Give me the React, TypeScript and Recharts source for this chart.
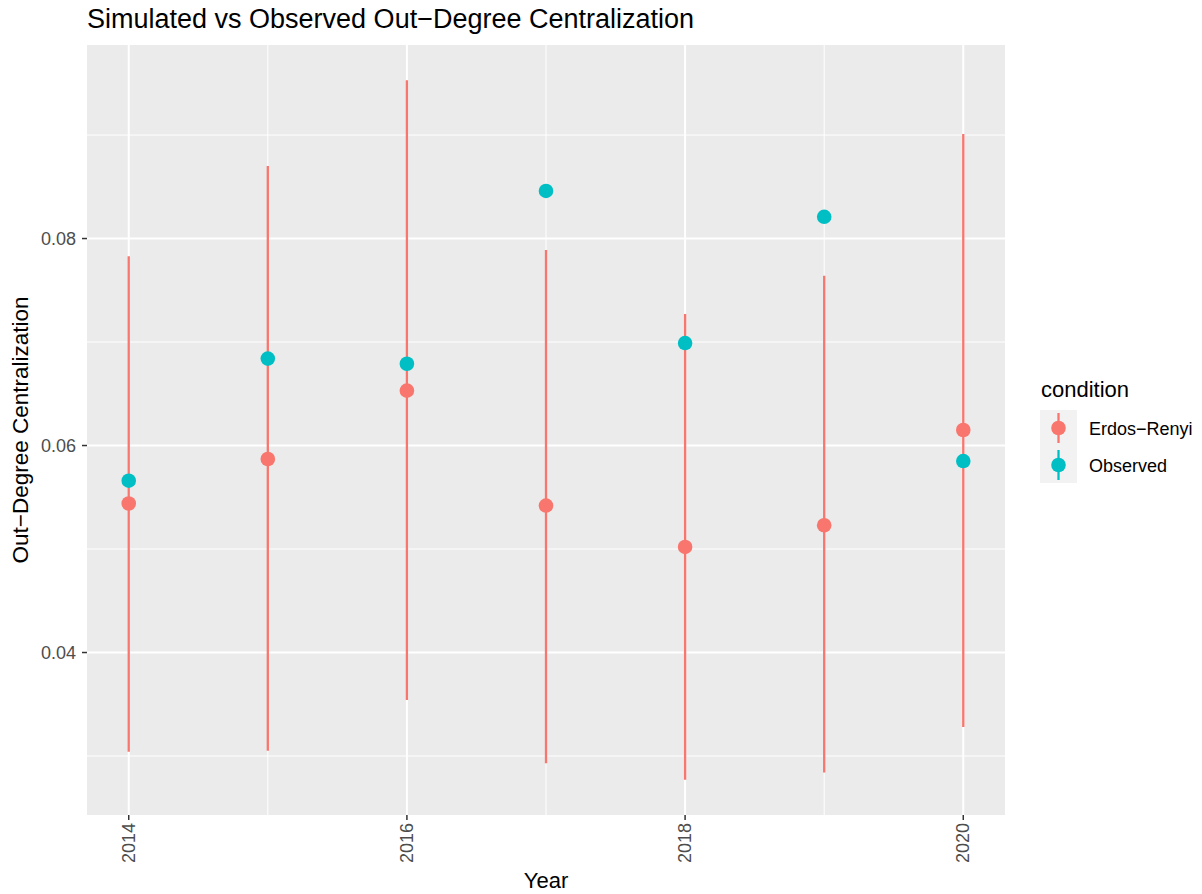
import React from 'react';
import {
  ScatterChart, Scatter, XAxis, YAxis, ErrorBar, ReferenceArea, ReferenceLine,
} from 'recharts';

const years = [2014, 2015, 2016, 2017, 2018, 2019, 2020];
const erMean = [0.0544, 0.0587, 0.0653, 0.0542, 0.0502, 0.0523, 0.0615];
const erLow = [0.0304, 0.0305, 0.0354, 0.0293, 0.0277, 0.0284, 0.0328];
const erHigh = [0.0783, 0.0870, 0.0953, 0.0789, 0.0727, 0.0764, 0.0901];
const observed = [0.0566, 0.0684, 0.0679, 0.0846, 0.0699, 0.0821, 0.0585];

const xTicks = [2014, 2016, 2018, 2020];
const xMinor = [2015, 2017, 2019];
const yTicks = [0.04, 0.06, 0.08];
const yMinor = [0.03, 0.05, 0.07, 0.09];

const xDomain = [2013.7, 2020.3];
const yDomain = [0.0243, 0.0987];

const RED = '#F8766D';
const CYAN = '#00BFC4';
const FONT = '"Liberation Sans", Arial, sans-serif';

const XTick = (props: any) => {
  const { x, y, payload } = props;
  return (
    <text
      x={x}
      y={y}
      transform={`rotate(-90 ${x} ${y})`}
      textAnchor="end"
      dominantBaseline="central"
      fill="#4D4D4D"
      fontSize={18}
    >
      {payload.value}
    </text>
  );
};

const Dot = (color: string) => (props: any) => (
  <circle cx={props.cx} cy={props.cy} r={7.3} fill={color} />
);

export default function App() {
  const erData = years.map((year, i) => ({
    year,
    value: erMean[i],
    err: [erMean[i] - erLow[i], erHigh[i] - erMean[i]],
  }));
  const obsData = years.map((year, i) => ({ year, value: observed[i] }));

  return (
    <div style={{ position: 'absolute', left: 0, top: 0, width: 1202, height: 894, background: '#fff', fontFamily: FONT }}>
      <ScatterChart
        width={1202}
        height={894}
        margin={{ top: 45, right: 197, bottom: 0, left: 0 }}
        style={{ fontFamily: FONT }}
      >
        <XAxis
          type="number"
          dataKey="year"
          domain={xDomain}
          ticks={xTicks}
          allowDataOverflow
          axisLine={false}
          tickLine={{ stroke: '#333333', strokeWidth: 1.5 }}
          tickSize={5}
          tickMargin={3}
          tick={<XTick />}
          height={79}
        />
        <YAxis
          type="number"
          dataKey="value"
          domain={yDomain}
          ticks={yTicks}
          allowDataOverflow
          axisLine={false}
          tickLine={{ stroke: '#333333', strokeWidth: 1.5 }}
          tickSize={5}
          tickMargin={6}
          tickFormatter={(v: number) => v.toFixed(2)}
          tick={{ fill: '#4D4D4D', fontSize: 18 }}
          width={87}
        />
        <ReferenceArea
          x1={xDomain[0]}
          x2={xDomain[1]}
          y1={yDomain[0]}
          y2={yDomain[1]}
          fill="#EBEBEB"
          fillOpacity={1}
          stroke="none"
        />
        {yMinor.map((v) => (
          <ReferenceLine key={`ym${v}`} y={v} stroke="#FFFFFF" strokeWidth={1} />
        ))}
        {xMinor.map((v) => (
          <ReferenceLine key={`xm${v}`} x={v} stroke="#FFFFFF" strokeWidth={1} />
        ))}
        {yTicks.map((v) => (
          <ReferenceLine key={`y${v}`} y={v} stroke="#FFFFFF" strokeWidth={2} />
        ))}
        {xTicks.map((v) => (
          <ReferenceLine key={`x${v}`} x={v} stroke="#FFFFFF" strokeWidth={2} />
        ))}
        <Scatter
          name="Erdos−Renyi"
          data={erData}
          fill={RED}
          shape={Dot(RED)}
          isAnimationActive={false}
        >
          <ErrorBar dataKey="err" direction="y" width={0} stroke={RED} strokeWidth={2.3} />
        </Scatter>
        <Scatter
          name="Observed"
          data={obsData}
          fill={CYAN}
          shape={Dot(CYAN)}
          isAnimationActive={false}
        />
      </ScatterChart>

      {/* titles and legend */}
      <svg
        width={1202}
        height={894}
        style={{ position: 'absolute', left: 0, top: 0, pointerEvents: 'none', fontFamily: FONT }}
      >
        <text x={87} y={28} fontSize={27} fill="#000">
          Simulated vs Observed Out−Degree Centralization
        </text>
        <text
          x={28}
          y={430}
          fontSize={22.5}
          fill="#000"
          textAnchor="middle"
          transform="rotate(-90 28 430)"
        >
          Out−Degree Centralization
        </text>
        <text x={546} y={888} fontSize={22} fill="#000" textAnchor="middle">
          Year
        </text>

        <text x={1041} y={397} fontSize={22} fill="#000">condition</text>
        <rect x={1040} y={410} width={37} height={73} fill="#F2F2F2" />
        <line x1={1058.5} x2={1058.5} y1={413} y2={443} stroke={RED} strokeWidth={2.3} />
        <circle cx={1058.5} cy={428} r={7.3} fill={RED} />
        <line x1={1058.5} x2={1058.5} y1={450} y2={480} stroke={CYAN} strokeWidth={2.3} />
        <circle cx={1058.5} cy={465} r={7.3} fill={CYAN} />
        <text x={1089} y={434.5} fontSize={18} fill="#000">Erdos−Renyi</text>
        <text x={1089} y={471.5} fontSize={18} fill="#000">Observed</text>
      </svg>
    </div>
  );
}
